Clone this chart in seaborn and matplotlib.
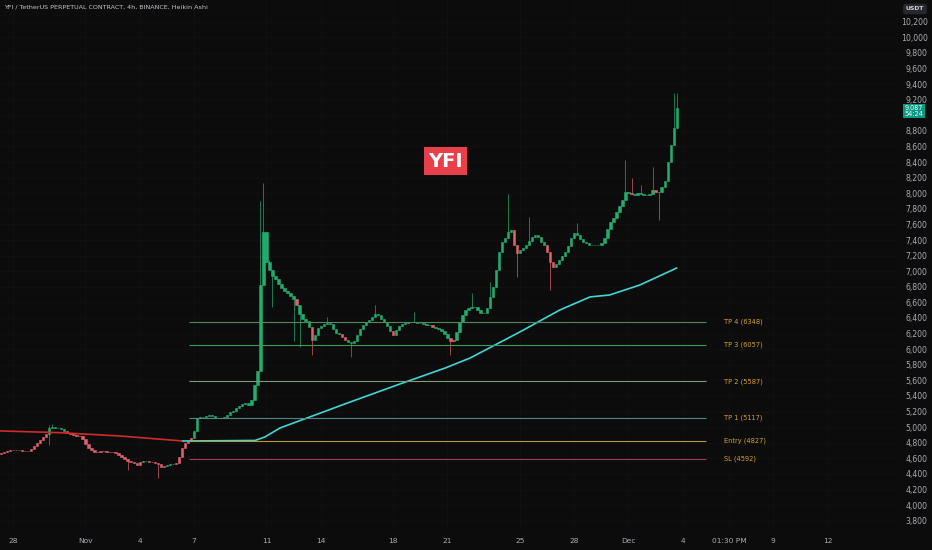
import pandas as pd
import matplotlib
matplotlib.use("Agg")
import matplotlib.pyplot as plt
import seaborn as sns

sns.set_theme(style="dark")
plt.rcParams["font.family"] = ["DejaVu Sans"]

# --- data (Heikin Ashi 4h candles, closes) ---
first_open = 4660
closes = [
    4669, 4682, 4695, 4708, 4708, 4702, 4702, 4695, 4689, 4695,
    4721, 4759, 4798, 4836, 4875, 4913, 4990, 5003, 4990, 4984,
    4971, 4952, 4926, 4913, 4900, 4887, 4881, 4855, 4785, 4734,
    4702, 4686, 4686, 4695, 4689, 4682, 4686, 4678, 4669, 4644,
    4612, 4593, 4573, 4554, 4535, 4516, 4558, 4567, 4561, 4554,
    4554, 4541, 4528, 4496, 4503, 4516, 4522, 4528, 4535, 4618,
    4734, 4798, 4823, 4862, 4952, 5118, 5135, 5135, 5144, 5157,
    5144, 5118, 5114, 5114, 5137, 5157, 5189, 5214, 5243, 5278,
    5298, 5304, 5285, 5349, 5541, 5721, 6823, 7503, 7118, 7016,
    6939, 6900, 6836, 6785, 6746, 6721, 6682, 6644, 6567, 6452,
    6387, 6362, 6285, 6118, 6182, 6272, 6298, 6317, 6342, 6317,
    6259, 6208, 6189, 6157, 6118, 6093, 6080, 6105, 6182, 6259,
    6310, 6349, 6375, 6407, 6452, 6439, 6387, 6349, 6298, 6234,
    6182, 6240, 6298, 6323, 6336, 6349, 6349, 6349, 6342, 6336,
    6317, 6310, 6310, 6291, 6272, 6253, 6234, 6195, 6144, 6105,
    6118, 6221, 6349, 6439, 6503, 6528, 6541, 6541, 6503, 6464,
    6464, 6528, 6670, 6798, 7016, 7246, 7375, 7426, 7503, 7528,
    7336, 7234, 7272, 7298, 7336, 7387, 7439, 7464, 7439, 7375,
    7336, 7246, 7118, 7054, 7092, 7144, 7195, 7246, 7323, 7426,
    7490, 7464, 7413, 7375, 7362, 7342, 7336, 7336, 7342, 7362,
    7432, 7541, 7631, 7682, 7759, 7836, 7913, 8016, 8003, 7990,
    7977, 8003, 7990, 7977, 7977, 7990, 8041, 8016, 8016, 8080,
    8157, 8400, 8618, 8836, 9087,
]

# red (bearish) candles
bear_runs = [(0, 15), (22, 46), (48, 54), (57, 63)]
bear_single = [98, 103, 113, 114, 130, 143, 149, 150, 170, 171, 181, 182, 183, 209, 217, 218]

# visible wicks
wick_hi = {16: 5030, 17: 5040, 86: 7900, 87: 8130, 88: 7250, 89: 7150,
           108: 6413, 124: 6567, 137: 6477, 156: 6720, 162: 6860,
           168: 7990, 175: 7695, 191: 7618, 207: 8420, 209: 8195,
           212: 8105, 216: 8336, 223: 9280, 224: 9280}
wick_lo = {16: 4772, 42: 4452, 52: 4349, 90: 6540, 97: 6100, 99: 6030,
           103: 5926, 116: 5900, 149: 5926, 171: 6926, 182: 6759, 218: 7657}

# moving average
ma_red_times = ["2023-10-27 07:00", "2023-10-30 14:00", "2023-11-02 22:00", "2023-11-06 09:00"]
ma_red_values = [4952, 4930, 4887, 4823]
ma_times = ["2023-11-06 09:00", "2023-11-10 09:00", "2023-11-10 22:00", "2023-11-11 18:00",
            "2023-11-15 15:00", "2023-11-18 09:00", "2023-11-20 21:00", "2023-11-22 06:00",
            "2023-11-25 00:00", "2023-11-27 05:00", "2023-11-28 21:00", "2023-11-29 23:00",
            "2023-12-01 15:00", "2023-12-03 16:00"]
ma_values = [4823, 4830, 4875, 4990, 5323, 5554, 5759, 5887, 6221, 6503, 6670, 6695, 6823, 7041]

# trade levels
level_names = ["TP 4", "TP 3", "TP 2", "TP 1", "Entry", "SL"]
level_values = [6348, 6057, 5587, 5117, 4827, 4592]
level_colors = ["#4f8a5c", "#3f9a52", "#7c9a74", "#4f8a80", "#b8953f", "#a03a58"]

tick_dates = ["2023-10-28 00:00", "2023-11-01 00:00", "2023-11-04 00:00", "2023-11-07 00:00",
              "2023-11-11 00:00", "2023-11-14 00:00", "2023-11-18 00:00", "2023-11-21 00:00",
              "2023-11-25 00:00", "2023-11-28 00:00", "2023-12-01 00:00", "2023-12-04 00:00",
              "2023-12-06 13:30", "2023-12-09 00:00", "2023-12-12 00:00"]
tick_labels = ["28", "Nov", "4", "7", "11", "14", "18", "21", "25", "28",
               "Dec", "4", "01:30 PM", "9", "12"]
price_ticks = list(range(3800, 10201, 200))
last_price = "9,087"
countdown = "54:24"

bg = "#0c0c0c"
up_col = "#22ad70"
down_col = "#e0606b"
txt_col = "#a8abb3"

# build candle table
df = pd.DataFrame({"time": pd.date_range("2023-10-27 08:00", periods=len(closes), freq="4h"),
                   "close": closes})
df["open"] = [first_open] + closes[:-1]
bear = set(bear_single)
for a, b in bear_runs:
    bear.update(range(a, b + 1))
df["color"] = [down_col if i in bear else up_col for i in range(len(df))]
df["high"] = [max(o, c, wick_hi.get(i, 0)) for i, (o, c) in enumerate(zip(df.open, df.close))]
df["low"] = [min(o, c, wick_lo.get(i, 1e9)) for i, (o, c) in enumerate(zip(df.open, df.close))]

fig = plt.figure(figsize=(9.32, 5.5), dpi=100, facecolor=bg)
ax = fig.add_axes([0, 20 / 550, 897 / 932, 530 / 550])
ax.set_facecolor(bg)

# wicks + bodies
ax.vlines(df.time, df.low, df.high, colors=df.color, lw=0.6, alpha=0.8)
ax.bar(df.time, df.close - df.open, bottom=df.open, width=0.13,
       color=df.color, edgecolor=df.color, lw=0.4)

# moving average
sns.lineplot(x=pd.to_datetime(ma_red_times), y=ma_red_values, ax=ax, color="#d02a2a", lw=1.2, sort=False)
sns.lineplot(x=pd.to_datetime(ma_times), y=ma_values, ax=ax, color="#3fd6d6", lw=1.2, sort=False)

# trade levels
lv_start = pd.Timestamp("2023-11-06 17:00")
lv_end = pd.Timestamp("2023-12-05 07:00")
lab_x = pd.Timestamp("2023-12-06 06:00")
for name, val, col in zip(level_names, level_values, level_colors):
    ax.hlines(val, lv_start, lv_end, colors=col, lw=0.8)
    ax.text(lab_x, val, f"{name} ({val})", color="#d6a22a", fontsize=4.8, va="center", ha="left")

ax.text(0.497, 0.696, "YFI", transform=ax.transAxes, fontsize=14, fontweight="bold",
        color="white", ha="center", va="center",
        bbox=dict(boxstyle="square,pad=0.22", fc="#e8404b", ec="none"))

# axes
ax.set_xlim(pd.Timestamp("2023-10-27 06:45"), pd.Timestamp("2023-12-15 20:00"))
ax.set_ylim(3682, 10477)
ax.set_xticks(pd.to_datetime(tick_dates, format="%Y-%m-%d %H:%M"))
ax.set_xticklabels(tick_labels)
ax.set_yticks(price_ticks)
# the 9,000 label sits under the last-price box
ax.set_yticklabels(["" if v == 9000 else f"{v:,}" for v in price_ticks])
ax.yaxis.tick_right()
ax.tick_params(axis="y", length=0, pad=22, labelsize=5.6, labelcolor=txt_col)
ax.tick_params(axis="x", length=0, pad=6, labelsize=5.4, labelcolor=txt_col)
for lab in ax.get_yticklabels():
    lab.set_horizontalalignment("right")
ax.grid(True, color="#111111", lw=0.6)
ax.set_xlabel("")
ax.set_ylabel("")
for s in ax.spines.values():
    s.set_visible(False)

fig.text(4 / 932, 1 - 7 / 550, "YFI / TetherUS PERPETUAL CONTRACT, 4h, BINANCE, Heikin Ashi",
         fontsize=4.6, color="#c3c6ce", va="center", ha="left")
fig.text(915 / 932, 1 - 9 / 550, "USDT", fontsize=4.4, fontweight="bold", color="#d1d4dc",
         ha="center", va="center", bbox=dict(boxstyle="round,pad=0.45", fc="#26282d", ec="none"))
fig.text(914 / 932, 1 - 111 / 550, f"{last_price}\n{countdown}", fontsize=4.7, color="white",
         ha="center", va="center", linespacing=0.9,
         bbox=dict(boxstyle="square,pad=0.2", fc="#089981", ec="none"))

fig.savefig("out.png", dpi=100, facecolor=bg)
